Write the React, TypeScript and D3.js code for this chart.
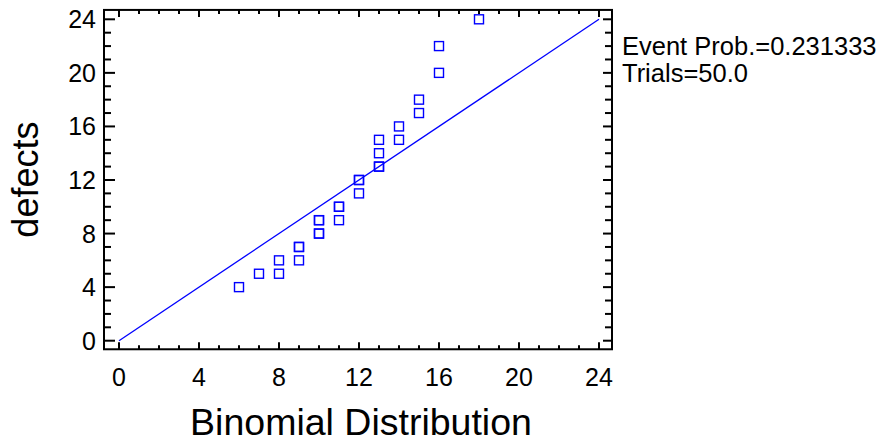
import * as d3 from "d3";

// quantile plot: binomial quantiles vs sorted defects
const binomialQuantiles = [6, 7, 8, 8, 9, 9, 9, 10, 10, 10, 10, 11, 11, 11, 12, 12, 12, 13, 13, 13, 13, 14, 14, 15, 15, 16, 16, 18];
const defects = [4, 5, 5, 6, 6, 7, 7, 8, 8, 9, 9, 9, 10, 10, 11, 12, 12, 13, 13, 14, 15, 15, 16, 17, 18, 20, 22, 24];
const xTicks = [0, 4, 8, 12, 16, 20, 24];
const yTicks = [0, 4, 8, 12, 16, 20, 24];
const minorTicks = d3.range(0, 25);
const fitLine = [0, 24];
const legendLines = ["Event Prob.=0.231333", "Trials=50.0"];

const W = 893;
const H = 442;
const BLUE = "#0000ff";
const FONT = "'Liberation Sans', Arial, sans-serif";

export default function App() {
  const x = d3.scaleLinear().domain([0, 24]).range([119, 599]);
  const y = d3.scaleLinear().domain([0, 24]).range([340.7, 19.3]);

  const left = x(-0.75);
  const right = x(24.65);
  const top = y(24.7);
  const bottom = y(-0.64);

  const line = d3
    .line<number>()
    .x((d) => x(d))
    .y((d) => y(d));

  const sq = 9;

  return (
    <div style={{ position: "absolute", left: 0, top: 0 }}>
      <svg width={W} height={H} viewBox={`0 0 ${W} ${H}`} style={{ display: "block", background: "#fff" }}>
        {/* fitted line */}
        <path d={line(fitLine) ?? ""} fill="none" stroke={BLUE} strokeWidth={1.3} />

        {/* points */}
        {binomialQuantiles.map((q, i) => (
          <rect
            key={i}
            x={x(q) - sq / 2}
            y={y(defects[i]) - sq / 2}
            width={sq}
            height={sq}
            fill="none"
            stroke={BLUE}
            strokeWidth={1.4}
          />
        ))}

        {/* ticks */}
        <g stroke="#000" strokeWidth={2}>
          {minorTicks.map((t) => {
            const major = t % 4 === 0;
            return (
              <g key={t}>
                <line x1={x(t)} x2={x(t)} y1={bottom} y2={bottom - (major ? 7 : 4)} />
                <line x1={x(t)} x2={x(t)} y1={top} y2={top + (major ? 7 : 4)} />
                <line x1={left} x2={left + (major ? 11 : 7)} y1={y(t)} y2={y(t)} />
                <line x1={right} x2={right - (major ? 9 : 7)} y1={y(t)} y2={y(t)} />
              </g>
            );
          })}
        </g>

        {/* frame */}
        <rect x={left} y={top} width={right - left} height={bottom - top} fill="none" stroke="#000" strokeWidth={2} />

        {/* tick labels */}
        <g fontFamily={FONT} fontSize={25} fill="#000">
          {xTicks.map((t) => (
            <text key={t} x={x(t)} y={386} textAnchor="middle">
              {t}
            </text>
          ))}
          {yTicks.map((t) => (
            <text key={t} x={96} y={y(t) + 9} textAnchor="end">
              {t}
            </text>
          ))}
        </g>

        {/* axis titles */}
        <text x={(left + right) / 2 + 3} y={435} textAnchor="middle" fontFamily={FONT} fontSize={37.5} fill="#000">
          Binomial Distribution
        </text>
        <text
          transform={`translate(38, ${(top + bottom) / 2}) rotate(-90)`}
          textAnchor="middle"
          fontFamily={FONT}
          fontSize={36}
          fill="#000"
        >
          defects
        </text>

        {/* legend */}
        <g fontFamily={FONT} fontSize={25.5} fill="#000">
          {legendLines.map((s, i) => (
            <text key={i} x={622} y={55 + i * 27}>
              {s}
            </text>
          ))}
        </g>
      </svg>
    </div>
  );
}
